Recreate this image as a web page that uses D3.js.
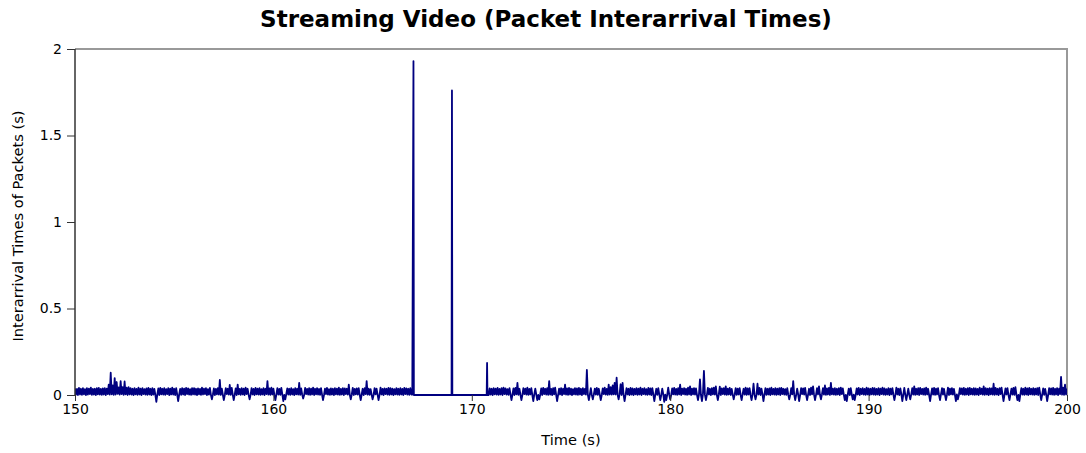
<!DOCTYPE html>
<html>
<head>
<meta charset="utf-8">
<script src="https://cdn.jsdelivr.net/npm/d3@7"></script>
<style>
  body { margin: 0; background: #fff; }
  svg { display: block; font-family: "DejaVu Sans", sans-serif; }
</style>
</head>
<body>
<svg id="chart" width="1086" height="453"></svg>
<script>
// ---- Text / ticks ----
const titleText = "Streaming Video (Packet Interarrival Times)";
const xLabelText = "Time (s)";
const yLabelText = "Interarrival Times of Packets (s)";
const xTicks = [150, 160, 170, 180, 190, 200];
const yTicks = [0, 0.5, 1, 1.5, 2];
const yTickLabels = ["0", "0.5", "1", "1.5", "2"];

// ---- Data: interarrival times in ms, one row per second, a sample every 0.05 s ----
const sampleStep = 0.05;

// 150 s .. 166 s
const seg1FirstSecond = 150;
const seg1Rows = [
  [38,2,35,0,41,3,36,1,39,4,34,0,40,2,37,5,42,1,35,3],
  [36,0,39,4,41,2,35,1,38,3,40,0,37,5,60,2,129,4,55,1],
  [98,3,75,6,44,2,80,5,46,1,78,4,42,0,45,3,40,2,36,0],
  [39,4,35,1,42,3,37,0,40,5,34,2,38,1,41,3,36,0,39,2],
  [35,1,-40,3,38,0,41,4,36,2,39,1,34,5,40,0,37,3,42,2],
  [36,0,39,4,-35,2,35,1,40,3,37,0,41,5,38,2,34,1,39,3],
  [40,2,36,0,38,4,35,1,42,3,37,5,39,0,34,2,41,1,-25,3],
  [38,0,35,4,40,2,87,1,37,3,-30,0,39,5,36,2,58,1,41,3],
  [-30,2,38,0,60,4,35,1,40,3,37,0,42,5,36,2,-25,1,39,3],
  [35,0,41,4,37,2,39,1,34,3,40,0,36,5,80,2,38,1,42,3],
  [37,0,-30,4,39,2,35,1,41,3,-35,0,-25,5,38,2,36,1,40,3],
  [34,0,39,4,36,2,70,1,38,3,-20,0,41,5,35,2,40,1,37,3],
  [42,0,36,4,39,2,35,1,40,3,-30,0,37,5,41,2,34,1,38,3],
  [36,0,40,4,37,2,42,1,35,3,39,0,38,5,36,2,60,1,-25,3],
  [41,0,35,4,38,2,40,1,-30,3,36,0,39,5,80,2,37,1,34,3],
  [-25,0,40,4,37,2,-30,1,42,3,35,0,38,5,36,2,41,1,39,3],
  [37,0,34,4,40,2,36,1,39,3,35,0,41,5,38,2,36,1,40,3]
];

// the stall: long interarrival spikes
const gapTimes = [167.0, 167.06, 167.08, 168.98, 169.0, 169.02, 170.75, 170.77, 170.79, 170.85, 170.9, 170.95];
const gapMs    = [3,     1930,   0,      0,      1760,  0,      0,      185,    0,      0,      38,    2];

// 171 s .. 199 s
const seg2FirstSecond = 171;
const seg2Rows = [
  [36,0,40,4,37,2,41,1,35,3,39,0,42,5,38,2,34,1,40,3],
  [-30,2,38,0,41,4,70,1,36,3,-30,0,39,5,37,2,42,1,35,3],
  [40,0,-35,4,37,2,-30,1,-25,3,38,0,41,5,36,2,39,1,80,3],
  [35,0,39,4,42,2,-35,1,37,3,40,0,36,5,60,2,38,1,41,3],
  [37,0,34,4,40,2,38,1,41,3,36,0,39,5,35,2,145,1,-30,3],
  [40,0,-25,4,37,2,41,1,36,3,-30,0,38,5,42,2,35,1,60,3],
  [45,2,55,4,70,3,100,1,-25,5,62,0,70,2,-35,1,39,3,36,0],
  [41,2,38,0,35,4,40,1,37,3,42,0,36,5,39,2,34,1,41,3],
  [38,0,40,4,-35,2,36,1,39,3,-30,0,37,5,-40,2,-30,1,42,3],
  [-25,0,38,4,41,2,35,1,40,3,60,0,37,5,39,2,36,1,42,3],
  [50,0,37,4,40,2,38,1,-30,3,90,0,-35,5,140,2,-30,1,41,3],
  [36,0,39,4,42,2,50,1,-30,3,48,0,38,5,40,2,50,1,37,3],
  [41,0,35,4,-25,2,39,1,37,3,40,0,-30,5,36,2,42,1,38,3],
  [39,0,-30,4,65,2,-25,1,65,3,41,0,37,5,-35,2,40,1,36,3],
  [38,0,42,4,35,2,40,1,37,3,39,0,41,5,36,2,34,1,40,3],
  [-25,0,39,4,80,2,-30,1,37,3,-35,0,40,5,38,2,41,1,-30,3],
  [36,0,42,4,50,2,-30,1,39,3,50,0,-25,5,40,2,55,1,38,3],
  [41,0,70,4,37,2,40,1,36,3,39,0,42,5,38,2,-30,1,-35,3],
  [37,0,40,4,-25,2,-30,1,38,3,41,0,36,5,39,2,35,1,42,3],
  [38,0,36,4,41,2,39,1,35,3,40,0,37,5,42,2,38,1,34,3],
  [40,0,37,4,39,2,-30,1,42,3,36,0,38,5,-35,2,41,1,-30,3],
  [37,0,-25,4,40,2,50,1,36,3,39,0,41,5,35,2,38,1,42,3],
  [36,0,-35,4,38,2,41,1,37,3,40,0,-30,5,39,2,36,1,-30,3],
  [42,0,37,4,39,2,35,1,-35,3,-25,0,40,5,38,2,41,1,36,3],
  [39,0,41,4,36,2,40,1,38,3,35,0,42,5,37,2,50,1,39,3],
  [37,0,40,4,38,2,65,1,41,3,36,0,39,5,42,2,-35,1,38,3],
  [40,0,-30,4,37,2,41,1,45,3,-30,0,-35,5,39,2,36,1,42,3],
  [38,0,41,4,36,2,40,1,37,3,39,0,42,5,-30,2,38,1,35,3],
  [-35,0,40,4,38,2,41,1,36,3,39,0,37,5,105,2,42,1,60,3]
];
const lastTime = 200.0, lastMs = 38;

// ---- Build points ----
const points = [];
seg1Rows.forEach((row, r) => row.forEach((v, k) =>
  points.push({t: seg1FirstSecond + r + k * sampleStep, v: v / 1000})));
gapMs.forEach((v, i) => points.push({t: gapTimes[i], v: v / 1000}));
seg2Rows.forEach((row, r) => row.forEach((v, k) =>
  points.push({t: seg2FirstSecond + r + k * sampleStep, v: v / 1000})));
points.push({t: lastTime, v: lastMs / 1000});

// ---- Layout ----
const W = 1086, H = 453;
const margin = {left: 75, right: 19, top: 49, bottom: 58};
const svg = d3.select("#chart");

const x = d3.scaleLinear().domain([150, 200]).range([margin.left, W - margin.right]);
const y = d3.scaleLinear().domain([0, 2]).range([H - margin.bottom, margin.top]);

svg.append("clipPath").attr("id", "clip")
  .append("rect")
  .attr("x", margin.left).attr("y", margin.top)
  .attr("width", W - margin.left - margin.right)
  .attr("height", H - margin.top - margin.bottom + 12);

// frame (top/right gray)
svg.append("path")
  .attr("d", `M${x(150)},${y(2)} H${x(200)} V${y(0)}`)
  .attr("fill", "none").attr("stroke", "#999").attr("stroke-width", 2);

// data line
const line = d3.line().x(d => x(d.t)).y(d => y(d.v));
svg.append("path")
  .datum(points)
  .attr("clip-path", "url(#clip)")
  .attr("d", line)
  .attr("fill", "none")
  .attr("stroke", "#000080")
  .attr("stroke-width", 1.8)
  .attr("stroke-linejoin", "round");

// axes
const xAxis = d3.axisBottom(x).tickValues(xTicks).tickFormat(d3.format("d")).tickSize(6).tickPadding(3);
const gx = svg.append("g").attr("transform", `translate(0,${y(0)})`).call(xAxis);
gx.select(".domain").remove();
gx.selectAll(".tick line").attr("stroke", "#333");
gx.selectAll("text").attr("font-size", 14).attr("fill", "#000").attr("font-family", "DejaVu Sans");

const yAxis = d3.axisLeft(y).tickValues(yTicks).tickFormat((d, i) => yTickLabels[i]).tickSize(8).tickPadding(5);
const gy = svg.append("g").attr("transform", `translate(${x(150)},0)`).call(yAxis);
gy.select(".domain").attr("stroke", "#333").attr("stroke-width", 1.5).attr("d", `M0,${y(2)}V${y(0)}`);
gy.selectAll(".tick line").attr("stroke", "#333");
gy.selectAll("text").attr("font-size", 14).attr("fill", "#000").attr("font-family", "DejaVu Sans");

// title
svg.append("text")
  .attr("x", 546).attr("y", 27)
  .attr("text-anchor", "middle")
  .attr("font-size", 23).attr("font-weight", "bold")
  .attr("font-family", "DejaVu Sans")
  .text(titleText);

// x label
svg.append("text")
  .attr("x", 571).attr("y", 445)
  .attr("text-anchor", "middle")
  .attr("font-size", 14.6)
  .text(xLabelText);

// y label
svg.append("text")
  .attr("transform", `translate(23,226) rotate(-90)`)
  .attr("text-anchor", "middle")
  .attr("font-size", 14.6)
  .text(yLabelText);
</script>
</body>
</html>
